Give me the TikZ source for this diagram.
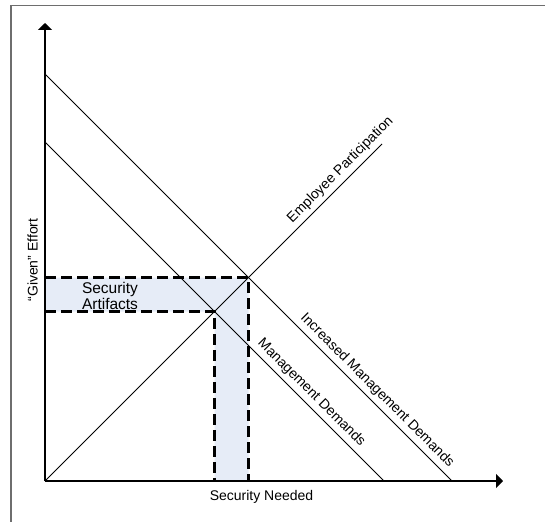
\documentclass[tikz,border=0pt]{standalone}
\usepackage{fontspec}
\setmainfont{Liberation Sans}
\usetikzlibrary{arrows.meta}
\definecolor{bandfill}{RGB}{230,236,247}
\definecolor{framegray}{RGB}{110,110,110}
\begin{document}
\begin{tikzpicture}[x=1bp,y=-1bp,
  axis/.style={line width=2.3bp,-{Triangle[length=7bp,width=14bp]}},
  curve/.style={line width=1bp},
  guide/.style={line width=2.2bp,dash pattern=on 11bp off 5bp},
  lbl/.style={font=\fontsize{14bp}{16bp}\selectfont,inner sep=4bp},
]
\useasboundingbox (0,0) rectangle (545,522);
% frame
\draw[framegray,line width=1.5bp] (11,522) -- (11,5.5) -- (545,5.5);

% key points
\coordinate (O) at (45,481);
\coordinate (ytip) at (45,23);
\coordinate (xtip) at (503,481);
\coordinate (A) at (45,74);
\coordinate (B) at (452,481);
\coordinate (C) at (45,142);
\coordinate (D) at (384,481);
\coordinate (E) at (382,144);
\coordinate (P1) at (248.5,277.5);
\coordinate (P2) at (214.5,311.5);
\coordinate (L1) at (45,277.5);
\coordinate (L2) at (45,311.5);
\coordinate (F1) at (248.5,481);
\coordinate (F2) at (214.5,481);

% shaded band
\fill[bandfill] (L1) -- (P1) -- (F1) -- (F2) -- (P2) -- (L2) -- cycle;

% curves
\draw[curve] (A) -- (B)
  node[lbl,pos=0.797,sloped,above] (imd) {Increased Management Demands};
\draw[curve] (C) -- (D)
  node[lbl,pos=0.763,sloped,above] (md) {Management Demands};
\draw[curve] (O) -- (E)
  node[lbl,pos=0.90,sloped,above] (ep) {Employee Participation};

% guides
\draw[guide] (L1) -- (P1) -- (F1);
\draw[guide] (L2) -- (P2) -- (F2);

% axes
\draw[axis] (O) -- (ytip);
\draw[axis] (O) -- (xtip);

% labels
\node[lbl,rotate=90] (ylab) at (32.5,260) {“Given” Effort};
\node[lbl] (xlab) at (261.5,497) {Security Needed};
\node[font=\fontsize{15.5bp}{15.5bp}\selectfont,align=center,inner sep=0pt] (art) at (110,296) {Security\\Artifacts};
\end{tikzpicture}
\end{document}
